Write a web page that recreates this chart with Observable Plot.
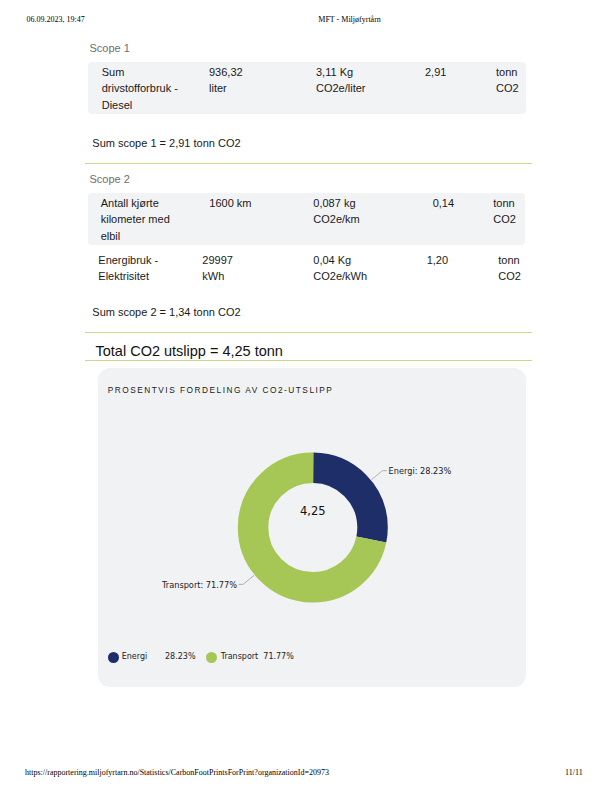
<!DOCTYPE html>
<html><head><meta charset="utf-8">
<script src="https://cdn.jsdelivr.net/npm/d3@7"></script>
<script src="https://cdn.jsdelivr.net/npm/@observablehq/plot@0.6"></script>
<style>
html,body{margin:0;padding:0;background:#fff;}
#page{position:relative;width:612px;height:792px;overflow:hidden;font-family:"Liberation Sans",Arial,sans-serif;color:#1a1a1a;}
.t{position:absolute;white-space:pre;}
.serif{font-family:"Liberation Serif","Times New Roman",serif;color:#000;font-size:8px;line-height:10px;}
.cell{font-size:11px;line-height:16.3px;}
.box{position:absolute;background:#f2f3f5;border-radius:4px;}
.rule{position:absolute;height:1.2px;background:#cdd68f;}
#card{position:absolute;left:98px;top:368px;width:428px;height:319px;background:#f1f2f4;border-radius:12px;}
#card svg{position:absolute;left:0;top:0;}
.leg{position:absolute;font-family:"DejaVu Sans",Verdana,sans-serif;font-size:8px;line-height:10px;color:#222;white-space:pre;}
.sw{position:absolute;width:11.4px;height:11.4px;border-radius:50%;}
</style></head><body><div id="page"></div>
<script>
// ---------- data ----------
const headerDate = "06.09.2023, 19:47";
const headerTitle = "MFT - Miljøfyrtårn";
const footerUrl = "https://rapportering.miljofyrtarn.no/Statistics/CarbonFootPrintsForPrint?organizationId=20973";
const footerPage = "11/11";

const scope1Title = "Scope 1";
const scope1Rows = [
  ["Sum\ndrivstofforbruk -\nDiesel", "936,32\nliter", "3,11 Kg\nCO2e/liter", "2,91", "tonn\nCO2"]
];
const scope1Sum = "Sum scope 1 = 2,91 tonn CO2";

const scope2Title = "Scope 2";
const scope2Rows = [
  ["Antall kjørte\nkilometer med\nelbil", "1600 km", "0,087 kg\nCO2e/km", "0,14", "tonn\nCO2"],
  ["Energibruk -\nElektrisitet", "29997\nkWh", "0,04 Kg\nCO2e/kWh", "1,20", "tonn\nCO2"]
];
const scope2Sum = "Sum scope 2 = 1,34 tonn CO2";
const totalText = "Total CO2 utslipp = 4,25 tonn";

const chartTitle = "PROSENTVIS FORDELING AV CO2-UTSLIPP";
const categories = ["Energi", "Transport"];
const shares = [28.23, 71.77];
const shareLabels = ["28.23%", "71.77%"];
const centerLabel = "4,25";
const colors = ["#1e2e69", "#a6c656"];

// ---------- page text ----------
const page = document.getElementById("page");
function put(text, x, yc, cls, lh, extra) {
  const d = document.createElement("div");
  d.className = "t " + cls;
  d.textContent = text;
  d.style.left = x + "px";
  d.style.top = (yc - lh / 2) + "px";
  if (extra) Object.assign(d.style, extra);
  page.appendChild(d);
  return d;
}
function rect(cls, x, y, w, h) {
  const d = document.createElement("div");
  d.className = cls;
  Object.assign(d.style, {left: x + "px", top: y + "px", width: w + "px"});
  if (h != null) d.style.height = h + "px";
  page.appendChild(d);
}
put(headerDate, 26.5, 19.5, "serif", 10);
put(headerTitle, 318.3, 19.5, "serif", 10);
put(footerUrl, 25, 773, "serif", 10);
put(footerPage, 565, 773, "serif", 10);

const gray = {color: "#6e6e6e", fontSize: "11px", lineHeight: "14px"};
put(scope1Title, 89.5, 47.7, "", 14, gray);
rect("box", 88.3, 61.7, 437.4, 52.3);
const s1x = [[101.7, 209, 316, 425, 496]];
scope1Rows.forEach((row, r) => row.forEach((c, i) => put(c, s1x[r][i], 72.3, "cell", 16.3)));
put(scope1Sum, 92.3, 142.7, "cell", 16.3);
rect("rule", 85, 162.8, 447);

put(scope2Title, 89.5, 178.7, "", 14, gray);
rect("box", 88, 192.7, 437, 52.3);
const s2x = [[100.7, 209.3, 313.3, 432.7, 493.3], [98.3, 202.3, 313.3, 426.7, 498.3]];
const s2y = [203.3, 260];
scope2Rows.forEach((row, r) => row.forEach((c, i) => put(c, s2x[r][i], s2y[r], "cell", 16.3)));
put(scope2Sum, 92.3, 311.7, "cell", 16.3);
rect("rule", 85, 332.3, 447);
put(totalText, 95.5, 351, "", 18, {fontSize: "14.5px", lineHeight: "18px", color: "#111"});
rect("rule", 85, 360.3, 447);

// ---------- chart card ----------
const card = document.createElement("div");
card.id = "card";
page.appendChild(card);
const W = 428, H = 319, cx = 214.3, cy = 159;
const R_OUT = 75, R_IN = 44.5, RM = (R_OUT + R_IN) / 2, SW = R_OUT - R_IN;
const C = 2 * Math.PI * RM;

let cum = 0;
const slices = categories.map((name, i) => {
  const f = shares[i] / 100;
  const s = {name, f, start: cum, color: colors[i], label: `${name}: ${shareLabels[i]}`, cx: 0, cy: 0};
  cum += f;
  const a = 2 * Math.PI * (s.start + f / 2);
  const dir = Math.sin(a) >= 0 ? 1 : -1;
  const p1 = [76 * Math.sin(a), -76 * Math.cos(a)];
  const p2 = [90 * Math.sin(a), -90 * Math.cos(a)];
  const p3 = [p2[0] + dir * 4, p2[1]];
  s.dir = dir;
  s.leader = [p1, p2, p3].map(p => ({name, x: p[0], y: p[1]}));
  s.lx = p3[0] + dir * 2;
  s.ly = p2[1] + 1;
  return s;
});

const marks = [];
slices.forEach(s => {
  const len = s.f * C;
  const startPos = ((0.75 + s.start) % 1) * C;
  marks.push(Plot.dot([s], {
    x: "cx", y: "cy", r: RM, fill: "none", stroke: s.color, strokeWidth: SW,
    strokeDasharray: `${len} ${C - len}`, strokeDashoffset: (C - startPos) % C
  }));
});
slices.forEach(s => {
  marks.push(Plot.line(s.leader, {x: "x", y: "y", stroke: "#a0a0a0", strokeWidth: 0.8}));
  marks.push(Plot.text([s], {
    x: "lx", y: "ly", text: "label", textAnchor: s.dir > 0 ? "start" : "end",
    fontFamily: "DejaVu Sans, Verdana, sans-serif", fontSize: 8.2, fill: "#222"
  }));
});
marks.push(Plot.text([centerLabel], {
  x: () => 0, y: () => -16.5, text: d => d,
  fontFamily: "DejaVu Sans, Verdana, sans-serif", fontSize: 11.5, fill: "#111"
}));

const svg = Plot.plot({
  width: W, height: H, margin: 0,
  x: {domain: [-cx, W - cx], range: [0, W], axis: null},
  y: {domain: [-cy, H - cy], range: [0, H], axis: null},
  style: {background: "transparent", overflow: "visible"},
  marks
});
card.appendChild(svg);

const title = document.createElement("div");
title.className = "t";
title.textContent = chartTitle;
Object.assign(title.style, {left: "9.7px", top: (390 - 368 - 5) + "px", fontSize: "8.3px", lineHeight: "10px", letterSpacing: "1.5px", color: "#1a1a1a"});
card.appendChild(title);

// legend
const legSw = [15.3, 113.3];
const legName = [23.7, 122.7];
const legVal = [67, 165.3];
const legY = 657.3 - 368;
categories.forEach((name, i) => {
  const sw = document.createElement("div");
  sw.className = "sw";
  Object.assign(sw.style, {left: (legSw[i] - 5.7) + "px", top: (legY - 5.7) + "px", background: colors[i]});
  card.appendChild(sw);
  const n = document.createElement("div");
  n.className = "leg"; n.textContent = name;
  Object.assign(n.style, {left: legName[i] + "px", top: (legY - 5) + "px"});
  card.appendChild(n);
  const v = document.createElement("div");
  v.className = "leg"; v.textContent = shareLabels[i];
  Object.assign(v.style, {left: legVal[i] + "px", top: (legY - 5) + "px"});
  card.appendChild(v);
});
</script>
</body></html>
